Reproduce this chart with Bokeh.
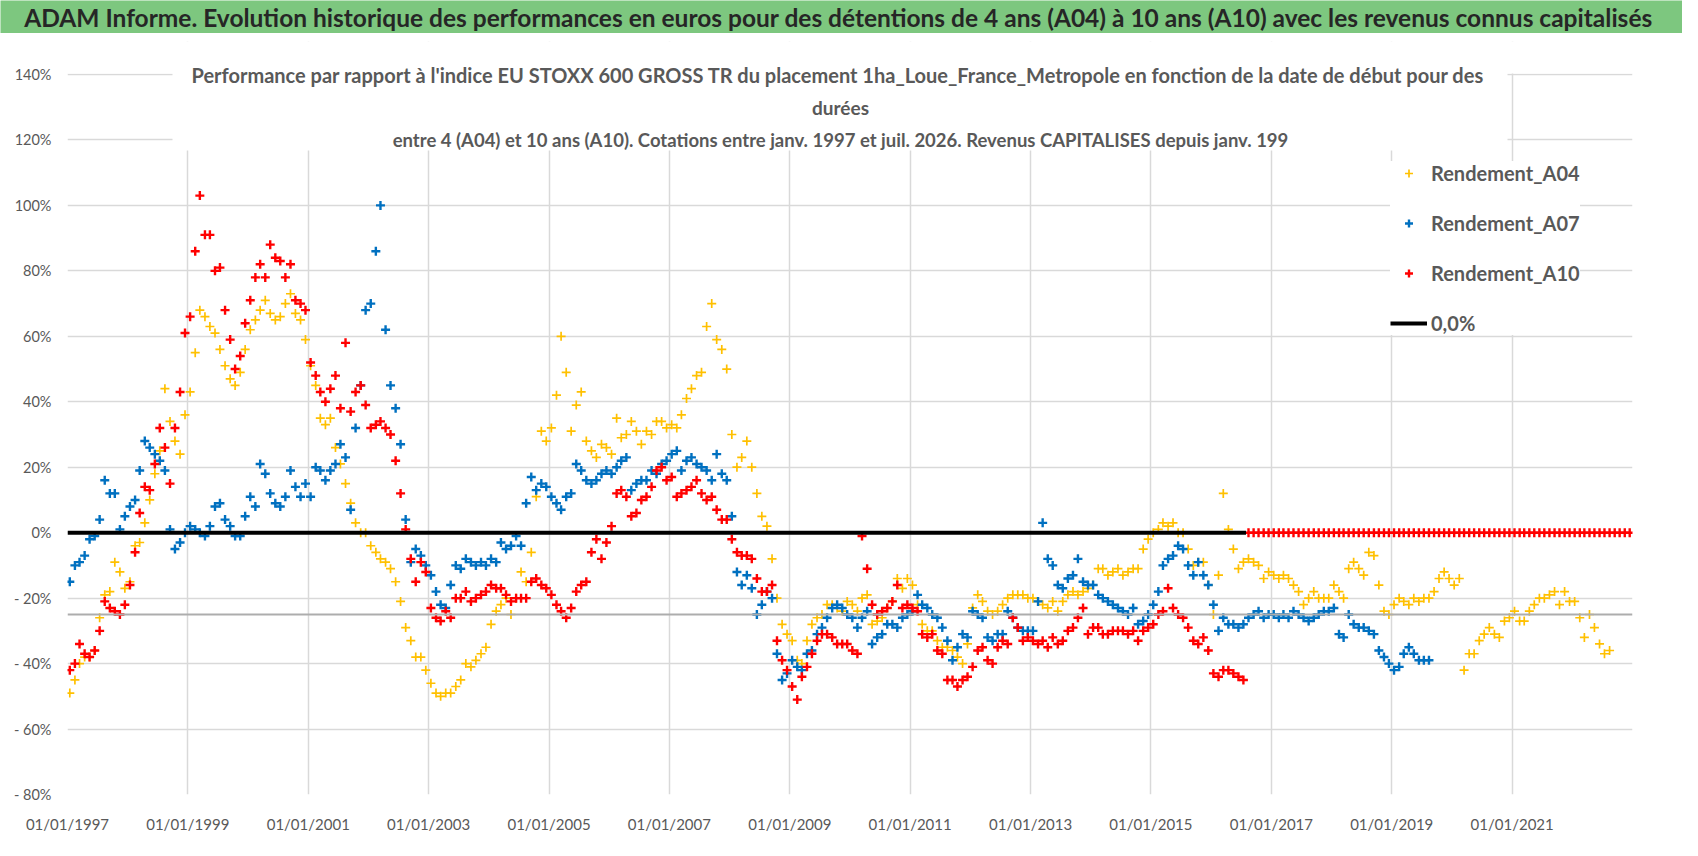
import pandas as pd
from bokeh.plotting import figure
from bokeh.models import (ColumnDataSource, FixedTicker, DatetimeTickFormatter, Label,
                          Legend, LegendItem, Range1d, Span, BoxAnnotation)
from bokeh.layouts import column
from bokeh.embed import file_html
from bokeh.resources import INLINE

# Rendements (en %), un point par mois depuis janv. 1997
rendement_a04 = [
    -49, -45, -40, -38, -38, -36, -26, -19, -18, -9, -12, -17,      # 1997
    -15, -4, -3, 3, 10, 18, 25, 44, 34, 28, 24, 36,                 # 1998
    43, 55, 68, 66, 63, 61, 56, 51, 47, 45, 49, 56,                 # 1999
    62, 65, 68, 71, 67, 65, 66, 70, 73, 67, 65, 59,                 # 2000
    51, 45, 35, 33, 35, 26, 21, 15, 9, 3, 0, 0,                     # 2001
    -4, -6, -8, -9, -11, -15, -21, -29, -33, -38, -38, -42,         # 2002
    -46, -49, -50, -49, -49, -47, -45, -40, -41, -39, -37, -35,     # 2003
    -28, -24, -22, -20, -25, -20, -12, -15, -6, 11, 31, 28,         # 2004
    32, 42, 60, 49, 31, 39, 43, 28, 25, 23, 27, 26,                 # 2005
    24, 35, 29, 30, 34, 31, 27, 31, 30, 34, 34, 32,                 # 2006
    33, 32, 36, 41, 44, 48, 49, 63, 70, 59, 56, 50,                 # 2007
    30, 20, 23, 28, 20, 12, 5, 2, -8, -20, -28, -31,                # 2008
    -33, -39, -40, -33, -28, -26, -25, -22, -22, -23, -24, -21,     # 2009
    -22, -24, -20, -19, -28, -27, -26, -23, -21, -14, -17, -14,     # 2010
    -16, -22, -28, -30, -30, -33, -35, -35, -36, -38, -40, -34,     # 2011
    -23, -19, -21, -24, -25, -24, -22, -20, -19, -19, -19, -20,     # 2012
    -20, -21, -22, -23, -21, -24, -21, -19, -18, -19, -18, -17,     # 2013
    -16, -11, -11, -13, -12, -11, -13, -12, -11, -11, -5, -2,       # 2014
    0, 1, 3, 2, 3, 0, 0, -5, -10, -9, -9, -16,                      # 2015
    -25, -13, 12, 1, -5, -11, -9, -8, -9, -10, -14, -12,            # 2016
    -13, -14, -13, -14, -16, -18, -22, -20, -18, -20, -20, -20,     # 2017
    -16, -18, -20, -11, -9, -11, -13, -6, -7, -16, -24, -25,        # 2018
    -22, -20, -21, -22, -20, -21, -20, -20, -18, -14, -12, -14,     # 2019
    -16, -14, -42, -37, -37, -33, -31, -29, -31, -32, -27, -26,     # 2020
    -24, -27, -27, -24, -22, -20, -20, -19, -18, -22, -18, -21,     # 2021
    -21, -26, -32, -25, -29, -34, -37, -36,                         # 2022
]

rendement_a07 = [
    -15, -10, -9, -7, -2, -1, 4, 16, 12, 12, 1, 5,                  # 1997
    8, 10, 19, 28, 26, 24, 22, 19, 1, -5, -3, 0,                    # 1998
    2, 1, 0, -1, 2, 8, 9, 4, 2, -1, -1, 5,                          # 1999
    11, 8, 21, 18, 12, 9, 8, 11, 19, 14, 11, 15,                    # 2000
    11, 20, 19, 16, 19, 21, 27, 23, 7, 32, 45, 68,                  # 2001
    70, 86, 100, 62, 45, 38, 27, 4, -9, -5, -7, -10,                # 2002
    -13, -18, -22, -23, -16, -10, -11, -8, -9, -10, -9, -10,        # 2003
    -8, -9, -3, -5, -4, -1, -4, 9, 17, 13, 15, 14,                  # 2004
    11, 9, 7, 11, 12, 21, 19, 16, 15, 16, 18, 19,                   # 2005
    18, 20, 22, 23, 13, 15, 16, 16, 19, 18, 21, 22,                 # 2006
    24, 25, 19, 22, 23, 21, 20, 19, 16, 24, 18, 16,                 # 2007
    5, -12, -16, -13, -17, -25, -22, -18, -20, -37, -45, -43,       # 2008
    -39, -41, -42, -37, -36, -31, -29, -26, -23, -22, -23, -25,     # 2009
    -26, -29, -26, -24, -34, -32, -31, -28, -28, -29, -26, -25,     # 2010
    -24, -19, -22, -23, -25, -26, -29, -33, -39, -35, -31, -32,     # 2011
    -24, -25, -26, -32, -33, -31, -31, -24, -26, -29, -30, -30,     # 2012
    -30, -21, 3, -8, -10, -16, -17, -14, -13, -8, -15, -16,         # 2013
    -16, -19, -20, -21, -22, -23, -24, -25, -23, -28, -27, -25,     # 2014
    -22, -18, -10, -8, -7, -4, -5, -10, -13, -9, -13, -16,          # 2015
    -22, -30, -26, -28, -28, -29, -28, -26, -25, -24, -26, -25,     # 2016
    -25, -26, -25, -26, -24, -25, -26, -27, -26, -25, -24, -24,     # 2017
    -23, -31, -32, -25, -28, -29, -29, -30, -31, -36, -38, -40,     # 2018
    -42, -41, -37, -35, -37, -39, -39, -39,                         # 2019
]

rendement_a10 = [
    -42, -40, -34, -37, -38, -36, -30, -21, -23, -24, -25, -22,     # 1997
    -16, -6, 6, 14, 13, 21, 32, 26, 15, 32, 43, 61,                 # 1998
    66, 86, 103, 91, 91, 80, 81, 68, 59, 50, 54, 64,                # 1999
    71, 78, 82, 78, 88, 84, 83, 78, 82, 71, 70, 68,                 # 2000
    52, 48, 43, 40, 44, 48, 38, 58, 37, 43, 45, 39,                 # 2001
    32, 33, 34, 32, 30, 22, 12, 1, -8, -15, -9, -12,                # 2002
    -23, -26, -27, -24, -26, -20, -20, -18, -21, -20, -19, -18,     # 2003
    -16, -17, -17, -19, -21, -20, -20, -20, -15, -14, -16, -17,     # 2004
    -19, -22, -24, -26, -23, -18, -16, -15, -6, -2, -8, -3,         # 2005
    2, 12, 13, 11, 5, 6, 10, 11, 14, 19, 20, 16,                    # 2006
    17, 11, 12, 13, 14, 16, 12, 10, 11, 7, 4, 4,                    # 2007
    -2, -6, -7, -7, -8, -14, -18, -18, -16, -33, -39, -42,          # 2008
    -47, -51, -44, -41, -37, -33, -31, -31, -32, -34, -34, -34,     # 2009
    -36, -37, -1, -11, -22, -25, -24, -23, -21, -16, -23, -22,      # 2010
    -23, -24, -31, -32, -31, -36, -37, -45, -45, -47, -45, -44,     # 2011
    -41, -36, -35, -39, -40, -35, -33, -34, -26, -29, -33, -32,     # 2012
    -33, -34, -33, -35, -32, -34, -33, -30, -29, -26, -23, -31,     # 2013
    -29, -29, -31, -31, -30, -30, -30, -31, -30, -33, -30, -29,     # 2014
    -28, -25, -24, -17, -23, -25, -26, -29, -33, -34, -32, -36,     # 2015
    -43, -44, -42, -42, -43, -44, -45, 0, 0, 0, 0, 0,               # 2016
    0, 0, 0, 0, 0, 0, 0, 0, 0, 0, 0, 0,                             # 2017
    0, 0, 0, 0, 0, 0, 0, 0, 0, 0, 0, 0,                             # 2018
    0, 0, 0, 0, 0, 0, 0, 0, 0, 0, 0, 0,                             # 2019
    0, 0, 0, 0, 0, 0, 0, 0, 0, 0, 0, 0,                             # 2020
    0, 0, 0, 0, 0, 0, 0, 0, 0, 0, 0, 0,                             # 2021
    0, 0, 0, 0, 0, 0, 0, 0, 0, 0, 0, 0,                             # 2022
]

ligne_zero_dates = ["1997-01-01", "2016-07-31"]
ligne_zero_valeurs = [0, 0]
ligne_grise = -25

tick_years = [1997, 1999, 2001, 2003, 2005, 2007, 2009, 2011, 2013, 2015, 2017, 2019, 2021]
y_ticks = [-80, -60, -40, -20, 0, 20, 40, 60, 80, 100, 120, 140]

titre = ("ADAM Informe. Evolution historique des performances en euros pour des détentions "
         "de 4 ans (A04) à 10 ans (A10) avec les revenus connus capitalisés")
sous_titre = [
    "Performance par rapport à l'indice EU STOXX 600 GROSS TR  du placement "
    "1ha_Loue_France_Metropole en fonction de la date de début pour des",
    "durées",
    "entre 4 (A04) et 10 ans (A10). Cotations entre janv. 1997 et juil. 2026. "
    "Revenus CAPITALISES depuis janv. 199",
]

FONT = "Lato"
GRIS = "#595959"


def mois(valeurs):
    d = pd.date_range("1997-01-01", periods=len(valeurs), freq="MS") + pd.Timedelta(days=14)
    return ColumnDataSource(data=dict(date=d, val=valeurs))


# Bandeau vert du titre
bandeau = figure(width=1682, height=33, x_range=Range1d(0, 1), y_range=Range1d(0, 1),
                 x_axis_type=None, y_axis_type=None, toolbar_location=None,
                 output_backend="svg", min_border=0, frame_align=False,
                 outline_line_color=None,
                 background_fill_color="#7DC77F", border_fill_color="#7DC77F")
bandeau.add_layout(Label(
    x=838, y=16, x_units="screen", y_units="screen", text=titre,
    text_font=FONT, text_font_size="24.5px", text_font_style="bold",
    text_color="#262626", text_align="center", text_baseline="middle"))

# Graphique principal (le cadre monte au-dessus de 140 % pour loger le sous-titre)
p = figure(width=1682, height=807, x_axis_type="datetime",
           x_range=Range1d(pd.Timestamp("1997-01-01"), pd.Timestamp("2023-01-01")),
           y_range=Range1d(-80, 150.08),
           toolbar_location=None, output_backend="svg", frame_align=False,
           min_border_left=67, min_border_right=50, min_border_top=8, min_border_bottom=46,
           outline_line_color=None)

p.add_layout(Span(location=ligne_grise, dimension="width", line_color="#ADADAD", line_width=2))

r04 = p.scatter("date", "val", source=mois(rendement_a04), marker="cross", size=9,
                line_color="#FFC000", line_width=1.7)
r07 = p.scatter("date", "val", source=mois(rendement_a07), marker="cross", size=9,
                line_color="#0070C0", line_width=2.4)
r10 = p.scatter("date", "val", source=mois(rendement_a10), marker="cross", size=9,
                line_color="#FF0000", line_width=2.4)
rzero = p.line(x=pd.to_datetime(ligne_zero_dates), y=ligne_zero_valeurs,
               line_color="black", line_width=4)

# Axes
p.xaxis.ticker = FixedTicker(ticks=[pd.Timestamp(f"{a}-01-01").value // 10**6 for a in tick_years])
p.xaxis.formatter = DatetimeTickFormatter(days="%d/%m/%Y", months="%d/%m/%Y", years="%d/%m/%Y")
p.yaxis.ticker = FixedTicker(ticks=y_ticks)
p.yaxis.major_label_overrides = {v: (f"{v}%" if v >= 0 else f"- {-v}%") for v in y_ticks}

for ax in (p.xaxis, p.yaxis):
    ax.axis_line_color = None
    ax.major_tick_line_color = None
    ax.minor_tick_line_color = None
    ax.major_tick_out = 0
    ax.minor_tick_out = 0
    ax.major_label_text_font = FONT
    ax.major_label_text_color = GRIS
p.xaxis.major_label_text_font_size = "15px"
p.xaxis.major_label_standoff = 20
p.yaxis.major_label_text_font_size = "14.5px"
p.yaxis.major_label_standoff = 16

p.grid.grid_line_color = "#D9D9D9"
p.grid.grid_line_width = 1.5

# rien au-dessus de la ligne 140 %
p.add_layout(BoxAnnotation(bottom=140.3, fill_color="white", fill_alpha=1, line_color=None))

# Sous-titre sur fond blanc
p.add_layout(BoxAnnotation(left=105, right=1440, top=734, bottom=644,
                           left_units="screen", right_units="screen",
                           top_units="screen", bottom_units="screen",
                           fill_color="white", fill_alpha=1, line_color=None))
for ligne, y, taille in zip(sous_titre, [720, 687, 655], ["20px", "19px", "18.5px"]):
    p.add_layout(Label(x=773, y=y, x_units="screen", y_units="screen", text=ligne,
                       text_font=FONT, text_font_size=taille, text_font_style="bold",
                       text_color=GRIS, text_align="center", text_baseline="middle"))

# Légende
legend = Legend(items=[
    LegendItem(label="Rendement_A04", renderers=[r04]),
    LegendItem(label="Rendement_A07", renderers=[r07]),
    LegendItem(label="Rendement_A10", renderers=[r10]),
    LegendItem(label="0,0%", renderers=[rzero]),
], location=(1323, 459), background_fill_color="white", background_fill_alpha=1,
    border_line_color=None, padding=18, spacing=26, glyph_width=37, glyph_height=20,
    label_height=20, label_standoff=4, label_text_font=FONT, label_text_font_size="20px",
    label_text_font_style="bold", label_text_color=GRIS)
p.add_layout(legend)

layout = column(bandeau, p)

open("out.html", "w").write(file_html(layout, INLINE))
